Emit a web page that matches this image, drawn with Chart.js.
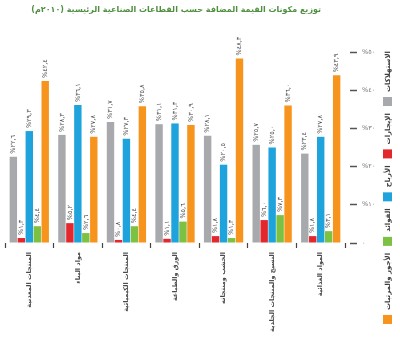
<!DOCTYPE html>
<html lang="ar">
<head>
<meta charset="utf-8">
<script src="https://cdn.jsdelivr.net/npm/chart.js@4.4.0/dist/chart.umd.min.js"></script>
<style>
  html, body { margin: 0; padding: 0; background: #fff; }
</style>
</head>
<body>
<canvas id="valueChart" width="400" height="340"></canvas>
<script>
const chartTitle = 'توزيع مكونات القيمة المضافة حسب القطاعات الصناعية الرئيسية (٢٠١٠م)';

const sectors = [
  'المنتجات المعدنية',
  'مواد البناء',
  'المنتجات الكيميائية',
  'الورق والطباعة',
  'الخشب ومنتجاته',
  'النسيج والمنتجات الجلدية',
  'المواد الغذائية'
];

const seriesNames = ['الاستهلاكات', 'الإيجارات', 'الأرباح', 'الفوائد', 'الأجور والمرتبات'];
const seriesColors = ['#a7a9ac', '#e2272d', '#1fa3dd', '#7dc143', '#f7941e'];

// values in % for each sector (left to right in the picture)
const consumption = [22.6, 28.3, 31.7, 31.1, 28.1, 25.7, 23.4];
const rents       = [1.3, 5.2, 0.8, 1.1, 1.8, 6.0, 1.8];
const profits     = [29.3, 36.1, 27.3, 31.3, 20.5, 25.0, 27.8];
const interest    = [4.4, 2.6, 4.4, 5.6, 1.3, 7.3, 3.1];
const wages       = [42.4, 27.8, 35.8, 30.9, 48.3, 36.0, 43.9];

const yTicks = [0, 10, 20, 30, 40, 50];

const FONT = '"DejaVu Sans", sans-serif';
const arDigits = '٠١٢٣٤٥٦٧٨٩';
const toArabic = (s) => String(s).replace(/[0-9]/g, d => arDigits[d]);
const pct = (v) => '%' + toArabic(v.toFixed(1).replace('.', ','));

// value labels, rotated, sitting on top of each bar
const barLabels = {
  id: 'barLabels',
  afterDatasetsDraw(chart) {
    const ctx = chart.ctx;
    ctx.save();
    ctx.font = '6.5px ' + FONT;
    ctx.fillStyle = '#4d4d4d';
    ctx.textAlign = 'left';
    ctx.textBaseline = 'middle';
    chart.data.datasets.forEach((ds, i) => {
      chart.getDatasetMeta(i).data.forEach((bar, j) => {
        ctx.save();
        ctx.translate(bar.x, bar.y - 3);
        ctx.rotate(-Math.PI / 2);
        ctx.fillText(pct(ds.data[j]), 0, 0);
        ctx.restore();
      });
    });
    ctx.restore();
  }
};

// rotated legend down the right edge + the title
const sideLegend = {
  id: 'sideLegend',
  afterDraw(chart) {
    const ctx = chart.ctx;
    ctx.save();
    ctx.font = 'bold 7px ' + FONT;
    ctx.fillStyle = '#3f3f3f';
    ctx.textBaseline = 'middle';
    ctx.textAlign = 'right';
    let y = 51;
    chart.data.datasets.forEach((ds) => {
      const w = ctx.measureText(ds.label).width;
      ctx.save();
      ctx.translate(388, y);
      ctx.rotate(-Math.PI / 2);
      ctx.fillText(ds.label, 0, 0);
      ctx.restore();
      y += w + 5;
      ctx.fillStyle = ds.backgroundColor;
      ctx.fillRect(383, y, 9, 9);
      ctx.fillStyle = '#3f3f3f';
      y += 9 + 7;
    });

    // title
    ctx.direction = 'rtl';
    ctx.textAlign = 'right';
    ctx.fillStyle = '#4f9040';
    let size = 11;
    ctx.font = 'bold ' + size + 'px ' + FONT;
    while (ctx.measureText(chartTitle).width > 296 && size > 6) {
      size -= 0.25;
      ctx.font = 'bold ' + size + 'px ' + FONT;
    }
    ctx.fillText(chartTitle, 321, 10);
    ctx.restore();
  }
};

const datasets = [consumption, rents, profits, interest, wages].map((values, i) => ({
  label: seriesNames[i],
  data: values,
  backgroundColor: seriesColors[i],
  borderWidth: 0,
  categoryPercentage: 0.82,
  barPercentage: 0.93
}));

new Chart(document.getElementById('valueChart'), {
  type: 'bar',
  data: { labels: sectors, datasets: datasets },
  plugins: [barLabels, sideLegend],
  options: {
    responsive: false,
    animation: false,
    layout: { padding: { left: 5, right: 25, top: 52, bottom: 0 } },
    plugins: {
      legend: { display: false },
      title: { display: false },
      tooltip: { enabled: false }
    },
    scales: {
      x: {
        border: { display: false },
        grid: {
          offset: true,
          drawOnChartArea: false,
          drawTicks: true,
          tickLength: 5,
          tickColor: '#444',
          tickWidth: 1.2
        },
        ticks: {
          autoSkip: false,
          minRotation: 90,
          maxRotation: 90,
          padding: 4,
          color: '#4a4a4a',
          font: { family: FONT, size: 6.5, weight: 'bold' }
        },
        afterFit(scale) { scale.height = 97; }
      },
      y: {
        position: 'right',
        min: 0,
        max: 50,
        border: { display: false },
        afterBuildTicks(scale) { scale.ticks = yTicks.map(v => ({ value: v })); },
        grid: {
          drawOnChartArea: false,
          drawTicks: true,
          tickLength: 12,
          tickColor: '#555',
          tickWidth: 1.5,
          tickBorderDash: [0, 5, 7, 30]
        },
        ticks: {
          padding: 5,
          color: '#777',
          font: { family: FONT, size: 6.5 },
          callback: (v) => v === 0 ? '٠' : '%' + toArabic(v)
        },
        afterFit(scale) { scale.width = 30; }
      }
    }
  }
});
</script>
</body>
</html>
